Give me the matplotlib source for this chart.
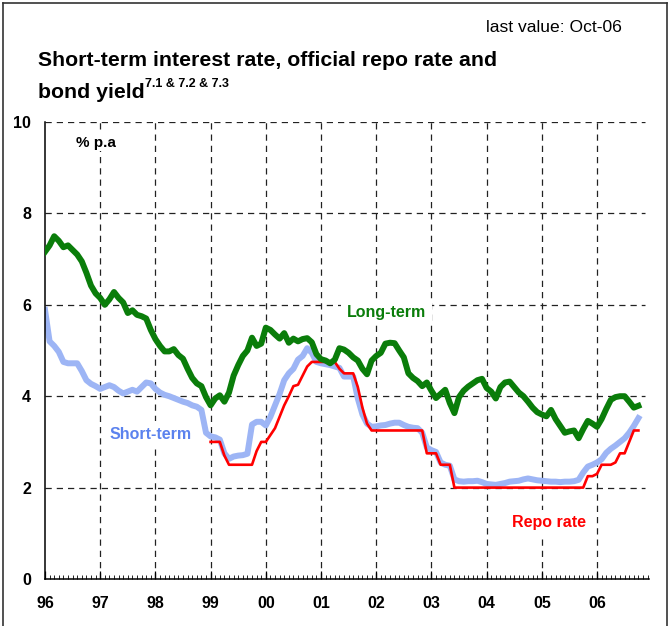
import numpy as np
import matplotlib
matplotlib.use("Agg")
from matplotlib import pyplot as plt
from matplotlib.lines import Line2D

plt.rcParams['font.family'] = ['Liberation Sans', 'DejaVu Sans']

# monthly series, Jan-96 = month 0, last value Oct-06
long_term = [7.16, 7.30, 7.50, 7.40, 7.26, 7.30, 7.20, 7.10, 6.95, 6.70, 6.42, 6.25,
             6.15, 6.00, 6.12, 6.28, 6.15, 6.05, 5.82, 5.88, 5.78, 5.75, 5.70, 5.45,
             5.25, 5.10, 4.98, 4.98, 5.03, 4.90, 4.82, 4.60, 4.40, 4.28, 4.22, 3.98,
             3.80, 3.95, 4.02, 3.88, 4.08, 4.45, 4.68, 4.88, 5.00, 5.28, 5.10, 5.15,
             5.50, 5.45, 5.35, 5.26, 5.38, 5.17, 5.26, 5.20, 5.25, 5.27, 5.18, 4.92,
             4.81, 4.78, 4.72, 4.80, 5.05, 5.02, 4.95, 4.85, 4.78, 4.60, 4.48, 4.78,
             4.88, 4.95, 5.15, 5.17, 5.16, 5.00, 4.85, 4.50, 4.40, 4.33, 4.22, 4.30,
             4.12, 3.96, 4.05, 4.14, 3.85, 3.63, 3.98, 4.12, 4.21, 4.28, 4.35, 4.38,
             4.18, 4.10, 3.95, 4.20, 4.30, 4.32, 4.20, 4.08, 4.00, 3.88, 3.75, 3.65,
             3.60, 3.56, 3.70, 3.50, 3.35, 3.20, 3.23, 3.25, 3.08, 3.28, 3.46, 3.40,
             3.33, 3.50, 3.72, 3.92, 3.98, 4.00, 4.00, 3.88, 3.75, 3.79]

short_term = [5.89, 5.20, 5.10, 4.97, 4.75, 4.72, 4.72, 4.72, 4.55, 4.35, 4.27, 4.22,
              4.16, 4.20, 4.24, 4.20, 4.12, 4.06, 4.10, 4.14, 4.10, 4.20, 4.30, 4.28,
              4.16, 4.08, 4.03, 4.00, 3.96, 3.92, 3.88, 3.85, 3.80, 3.77, 3.70, 3.20,
              3.12, 3.10, 3.05, 2.75, 2.63, 2.68, 2.70, 2.71, 2.74, 3.38, 3.44, 3.44,
              3.36, 3.55, 3.80, 4.05, 4.35, 4.50, 4.60, 4.80, 4.88, 5.05, 4.95, 4.75,
              4.72, 4.70, 4.68, 4.65, 4.62, 4.43, 4.43, 4.43, 3.95, 3.60, 3.40, 3.33,
              3.34, 3.36, 3.37, 3.40, 3.42, 3.42, 3.37, 3.33, 3.31, 3.30, 3.20, 2.88,
              2.82, 2.78, 2.55, 2.50, 2.48, 2.18, 2.14, 2.13, 2.14, 2.14, 2.15, 2.12,
              2.08, 2.07, 2.06, 2.08, 2.10, 2.13, 2.14, 2.15, 2.18, 2.20, 2.18, 2.16,
              2.15, 2.14, 2.13, 2.13, 2.12, 2.13, 2.13, 2.14, 2.17, 2.33, 2.46, 2.50,
              2.55, 2.62, 2.76, 2.85, 2.92, 3.00, 3.08, 3.20, 3.35, 3.52]

# repo rate starts Jan-99 (month 36)
repo_start = 36
repo_rate = [3.00, 3.00, 3.00, 2.70, 2.50, 2.50, 2.50, 2.50, 2.50, 2.50, 2.80, 3.00,
             3.00, 3.15, 3.30, 3.55, 3.80, 4.00, 4.22, 4.25, 4.45, 4.65, 4.75, 4.75,
             4.75, 4.75, 4.75, 4.75, 4.60, 4.50, 4.50, 4.50, 4.20, 3.75, 3.40, 3.25,
             3.25, 3.25, 3.25, 3.25, 3.25, 3.25, 3.25, 3.25, 3.25, 3.25, 3.25, 2.75,
             2.75, 2.75, 2.50, 2.50, 2.50, 2.00, 2.00, 2.00, 2.00, 2.00, 2.00, 2.00,
             2.00, 2.00, 2.00, 2.00, 2.00, 2.00, 2.00, 2.00, 2.00, 2.00, 2.00, 2.00,
             2.00, 2.00, 2.00, 2.00, 2.00, 2.00, 2.00, 2.00, 2.00, 2.00, 2.25, 2.25,
             2.30, 2.50, 2.50, 2.50, 2.55, 2.75, 2.75, 3.00, 3.25, 3.25]

year_labels = ['96', '97', '98', '99', '00', '01', '02', '03', '04', '05', '06']
y_ticks = [0, 2, 4, 6, 8, 10]

months = np.arange(len(long_term))
repo_months = np.arange(repo_start, repo_start + len(repo_rate))

fig = plt.figure(figsize=(6.70, 6.26), dpi=100)
ax = fig.add_axes([45 / 670, 1 - 579 / 626, 604 / 670, 457 / 626])

# dashed grid, drawn by hand so it stops short of the right edge
grid_kw = dict(color='#222222', lw=0.9, dashes=(5, 4), zorder=1)
for y in y_ticks[1:]:
    ax.plot([0, 130.5], [y, y], **grid_kw)
for k in range(1, len(year_labels)):
    ax.plot([12 * k, 12 * k], [0, 10], **grid_kw)

ax.plot(months, short_term, color='#9db5f5', lw=4.3, solid_joinstyle='round', zorder=2)
ax.plot(repo_months, repo_rate, color='#ff0000', lw=1.9, zorder=3)
ax.plot(months, long_term, color='#0a7d0a', lw=4.3, solid_joinstyle='round', zorder=4)

ax.set_xlim(0, 131.3)
ax.set_ylim(0, 10)
for side in ['top', 'right']:
    ax.spines[side].set_visible(False)
for side in ['left', 'bottom']:
    ax.spines[side].set_linewidth(1.1)
ax.set_xticks(np.arange(0, 12 * len(year_labels), 12))
ax.set_xticklabels(year_labels, fontsize=11.5, fontweight='bold')
ax.set_xticks(np.arange(0, 132, 1), minor=True)
ax.tick_params(axis='x', which='major', direction='in', length=6, width=0.9, pad=12)
ax.tick_params(axis='x', which='minor', direction='in', length=3, width=0.6)
ax.set_yticks(y_ticks)
ax.set_yticklabels([str(v) for v in y_ticks], fontsize=11.5, fontweight='bold')
ax.tick_params(axis='y', direction='in', length=0, pad=10)

label_box = dict(facecolor='white', edgecolor='none', pad=4)
ax.text(6.7, 9.55, '% p.a', fontsize=11, fontweight='bold', va='center', ha='left',
        bbox=dict(facecolor='white', edgecolor='none', pad=1))
ax.text(74.2, 5.84, 'Long-term', color='#0a7d0a', fontsize=11.5, fontweight='bold',
        ha='center', va='center', bbox=label_box, zorder=5)
ax.text(23.0, 3.16, 'Short-term', color='#5b82ee', fontsize=11.5, fontweight='bold',
        ha='center', va='center', bbox=label_box, zorder=5)
ax.text(109.5, 1.23, 'Repo rate', color='#ff0000', fontsize=11.5, fontweight='bold',
        ha='center', va='center', bbox=label_box, zorder=5)

fig.text(622 / 670, 1 - 27 / 626, 'last value: Oct-06', fontsize=12.6, ha='right', va='center')
fig.text(38 / 670, 1 - 60 / 626, 'Short-term interest rate, official repo rate and',
         fontsize=15.3, fontweight='bold', ha='left', va='center')
fig.text(38 / 670, 1 - 92 / 626, 'bond yield', fontsize=15.3, fontweight='bold',
         ha='left', va='center')
fig.text(145 / 670, 1 - 84 / 626, '7.1 & 7.2 & 7.3', fontsize=9, fontweight='bold',
         ha='left', va='center')

# outer frame
for xs, ys in [([3, 3], [0, 623]), ([3, 667], [623, 623]), ([667, 667], [623, 0])]:
    fig.add_artist(Line2D([x / 670 for x in xs], [y / 626 for y in ys],
                          color='#333333', lw=1.2))

fig.savefig('out.png', dpi=100)
